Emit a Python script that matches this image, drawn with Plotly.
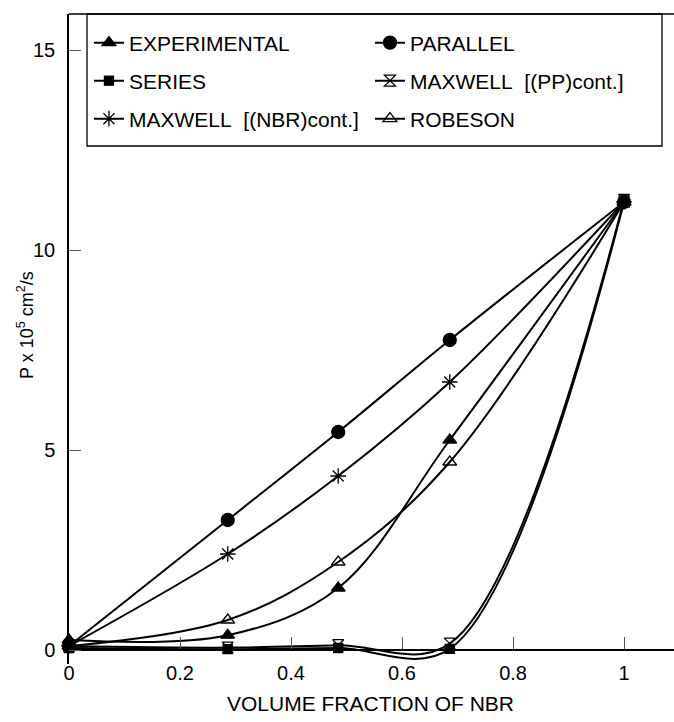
import plotly.graph_objects as go

# ---- data ----
phi = [0, 0.286, 0.485, 0.686, 1.0]
experimental = [0.25, 0.37, 1.55, 5.25, 11.2]
parallel = [0.1, 3.25, 5.45, 7.75, 11.2]
series = [0.05, 0.02, 0.05, 0.03, 11.2]
maxwell_pp = [0.1, 0.06, 0.12, 0.16, 11.25]
maxwell_nbr = [0.1, 2.4, 4.35, 6.7, 11.2]
robeson = [0.1, 0.75, 2.2, 4.7, 11.2]

x_tickvals = [0, 0.2, 0.4, 0.6, 0.8, 1]
x_ticktext = ["0", "0.2", "0.4", "0.6", "0.8", "1"]
y_tickvals = [0, 5, 10, 15]
y_ticktext = ["0", "5", "10", "15"]

FONT = "Liberation Sans, Arial, Helvetica, sans-serif"

traces = [
    ("EXPERIMENTAL", experimental, "triangle-up", 12, "legend"),
    ("PARALLEL", parallel, "circle", 13, "legend"),
    ("SERIES", series, "square", 9, "legend2"),
    ("MAXWELL&nbsp; [(PP)cont.]", maxwell_pp, "hourglass-open", 11, "legend2"),
    ("MAXWELL&nbsp; [(NBR)cont.]", maxwell_nbr, "asterisk-open", 13, "legend3"),
    ("ROBESON", robeson, "triangle-up-open", 12, "legend3"),
]

fig = go.Figure()
for name, ys, sym, size, leg in traces:
    fig.add_trace(go.Scatter(
        x=phi, y=ys, name=name, mode="lines+markers",
        line=dict(color="black", width=2, shape="spline", smoothing=1),
        marker=dict(symbol=sym, size=size, color="black",
                    line=dict(color="black", width=1.3)),
        cliponaxis=False, legend=leg,
    ))

ymin, ymax = -0.35, 15.9
xpos = (0 - ymin) / (ymax - ymin)

legend_common = dict(
    orientation="h", xanchor="left", yanchor="middle", x=0.033,
    entrywidth=236, entrywidthmode="pixels",
    bgcolor="rgba(0,0,0,0)", borderwidth=0,
    font=dict(family=FONT, size=21, color="black"),
)

fig.update_layout(
    width=674, height=722,
    margin=dict(l=69, r=0, t=14, b=58),
    paper_bgcolor="white", plot_bgcolor="white",
    font=dict(family=FONT, color="black"),
    xaxis=dict(range=[0, 1.09], anchor="free", position=xpos,
               showline=True, linecolor="black", linewidth=1.5,
               ticks="inside", ticklen=12, tickwidth=1, tickcolor="#555",
               tickvals=x_tickvals, ticktext=x_ticktext,
               tickfont=dict(family=FONT, size=20, color="black"),
               ticklabelstandoff=5,
               showgrid=False, zeroline=False),
    yaxis=dict(range=[ymin, ymax],
               showline=True, linecolor="black", linewidth=1.5,
               ticks="inside", ticklen=12, tickwidth=1, tickcolor="#555",
               tickvals=y_tickvals, ticktext=y_ticktext,
               tickfont=dict(family=FONT, size=20, color="black"),
               ticklabelstandoff=8,
               showgrid=False, zeroline=False),
    legend=dict(legend_common, y=(664 - 43) / 650),
    legend2=dict(legend_common, y=(664 - 81) / 650),
    legend3=dict(legend_common, y=(664 - 119) / 650),
    shapes=[
        dict(type="line", xref="paper", yref="paper", x0=0, x1=1, y0=1, y1=1,
             line=dict(color="black", width=1.5)),
        dict(type="rect", xref="paper", yref="paper",
             x0=(87 - 69) / 605, x1=(662 - 69) / 605,
             y0=(664 - 146) / 650, y1=1,
             line=dict(color="black", width=1.3)),
    ],
    annotations=[
        dict(text="P x 10<sup>5</sup> cm<sup>2</sup>/s", textangle=-90,
             xref="paper", yref="paper", x=(25 - 69) / 605, y=(664 - 325) / 650,
             xanchor="center", yanchor="middle", showarrow=False,
             font=dict(family=FONT, size=18, color="black")),
        dict(text="VOLUME FRACTION OF NBR",
             xref="paper", yref="paper", x=(370 - 69) / 605, y=(664 - 703) / 650,
             xanchor="center", yanchor="middle", showarrow=False,
             font=dict(family=FONT, size=21, color="black")),
    ],
)

fig.write_html("out.html")
